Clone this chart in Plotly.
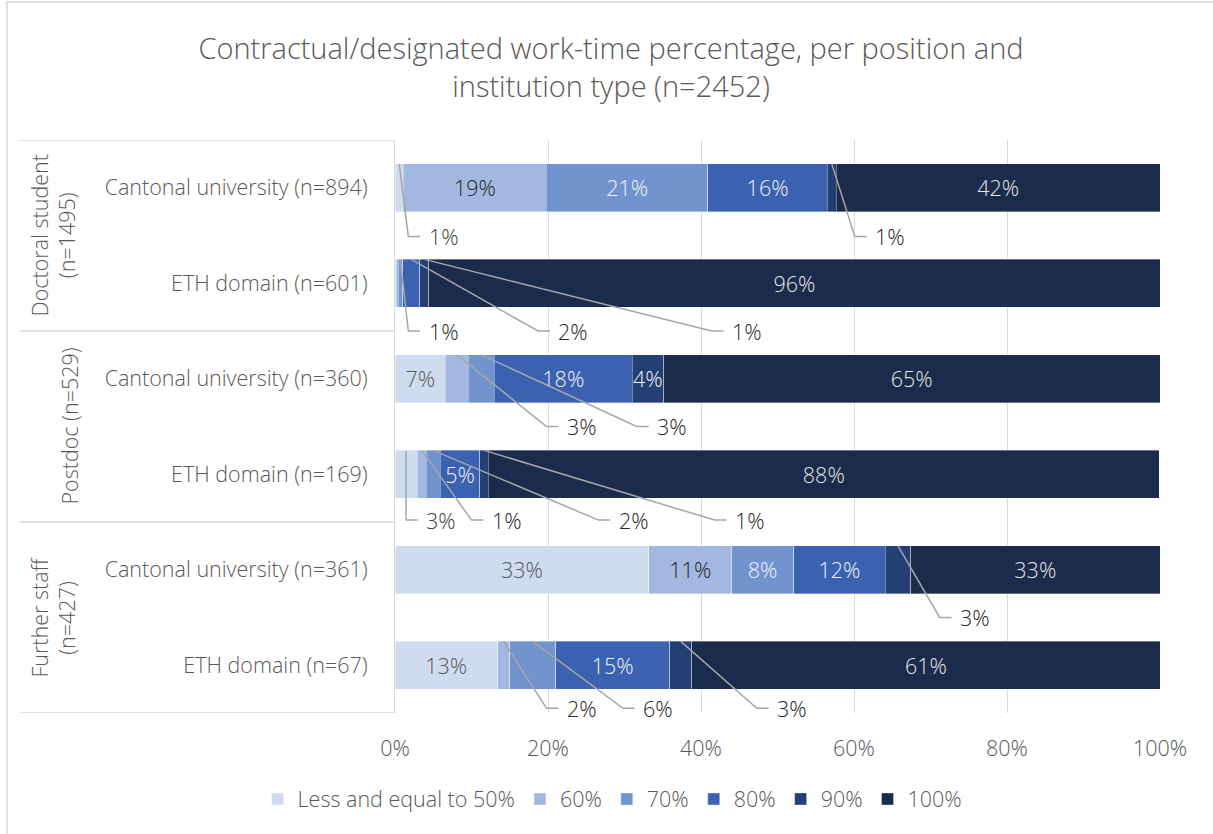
import plotly.graph_objects as go

# ---------------- data ----------------
categories = [
    "Cantonal university (n=894)",
    "ETH domain (n=601)",
    "Cantonal university (n=360)",
    "ETH domain (n=169)",
    "Cantonal university (n=361)",
    "ETH domain (n=67)",
]
groups = ["Doctoral student<br>(n=1495)", "Postdoc (n=529)", "Further staff<br>(n=427)"]
series_names = ["Less and equal to 50%", "60%", "70%", "80%", "90%", "100%"]

le50 = [1.1, 0.15, 6.6, 2.9, 33.2, 13.4]
p60 = [18.7, 0.25, 3.0, 1.2, 10.8, 1.6]
p70 = [21.1, 0.6, 3.4, 1.8, 8.1, 6.0]
p80 = [15.6, 2.26, 18.0, 5.2, 12.0, 14.9]
p90 = [1.2, 1.18, 4.1, 1.1, 3.3, 2.9]
p100 = [42.3, 95.56, 64.9, 87.7, 32.6, 61.2]
values = [le50, p60, p70, p80, p90, p100]

x_ticks = [0, 20, 40, 60, 80, 100]
x_ticktext = ["0%", "20%", "40%", "60%", "80%", "100%"]

# labels placed outside with leader lines: (row, series, elbow x in %, y offset in rows)
outside_labels = [
    (0, 0, 1.74, 0.51), (0, 4, 60.1, 0.51),
    (1, 2, 1.74, 0.50), (1, 3, 18.7, 0.50), (1, 4, 41.4, 0.50),
    (2, 1, 19.8, 0.50), (2, 2, 31.6, 0.50),
    (3, 0, 1.44, 0.48), (3, 1, 10.0, 0.48), (3, 2, 26.6, 0.48), (3, 4, 41.8, 0.48),
    (4, 4, 71.2, 0.50),
    (5, 1, 19.8, 0.45), (5, 2, 29.8, 0.45), (5, 4, 47.3, 0.45),
]
no_labels = [(1, 0), (1, 1)]

# ---------------- style ----------------
colors = ["#cfdbef", "#a2b8e0", "#7194cf", "#3a62b0", "#243f74", "#1a2b4c"]
inside_text_colors = ["#595959", "#262626", "#f2f2f2", "#f2f2f2", "#f2f2f2", "#e6e6e6"]
outside_text_colors = ["#404040", "#262626", "#262626", "#262626", "#262626", "#262626"]
FONT = "Open Sans"
WEIGHT = 300
FS = 21.5
GREY = "#595959"
LINE = "#d9d9d9"

W, H = 1213, 834
L, R, T, B = 395, 1160, 140, 713


def px_x(px):
    return (px - L) / (R - L)


def px_y(py):
    return (B - py) / (B - T)


def pct(v):
    return f"{int(v + 0.5)}%"


def fnt(size=FS, color=GREY):
    return dict(family=FONT, size=size, color=color, weight=WEIGHT)


rows = list(range(len(categories)))
outside_set = {(r, s) for r, s, _, _ in outside_labels}
hidden = outside_set | set(no_labels)

fig = go.Figure()
for s, (name, vals) in enumerate(zip(series_names, values)):
    texts = ["" if (r, s) in hidden else pct(v) for r, v in enumerate(vals)]
    fig.add_trace(go.Bar(
        y=rows, x=vals, name=name, orientation="h",
        marker=dict(color=colors[s], line=dict(color="rgba(255,255,255,0.6)", width=0.6)),
        width=0.5,
        text=texts, textposition="inside", insidetextanchor="middle", textangle=0,
        textfont=fnt(FS, inside_text_colors[s]),
        hoverinfo="x+name",
    ))

# leader lines + outside labels
for r, s, elbow, dy in outside_labels:
    start = sum(values[k][r] for k in range(s)) + values[s][r] / 2
    y0 = r - 0.25
    y1 = r + dy
    fig.add_shape(type="path", xref="x", yref="y",
                  path=f"M {start},{y0} L {elbow},{y1} L {elbow + 1.55},{y1}",
                  line=dict(color="#a6a6a6", width=1.5), layer="above")
    fig.add_annotation(x=elbow + 2.4, y=y1, xref="x", yref="y", text=pct(values[s][r]),
                       showarrow=False, xanchor="left", yanchor="middle",
                       font=fnt(FS, outside_text_colors[s]))

# left category box: separators
for yb in [-0.5, 1.5, 3.5, 5.5]:
    fig.add_shape(type="line", xref="paper", yref="y", x0=px_x(20), x1=0, y0=yb, y1=yb,
                  line=dict(color=LINE, width=1.5))

# group labels (rotated)
group_pos = [(53, 0.5), (69, 2.5), (53, 4.5)]
for g, (gx, gy) in zip(groups, group_pos):
    fig.add_annotation(x=px_x(gx), y=gy, xref="paper", yref="y", text=g, textangle=-90,
                       showarrow=False, xanchor="center", yanchor="middle",
                       font=fnt(FS, GREY))

# outer chart border
fig.add_shape(type="rect", xref="paper", yref="paper",
              x0=px_x(7), x1=px_x(W + 20), y0=px_y(H + 20), y1=px_y(2),
              line=dict(color=LINE, width=1.5), fillcolor="rgba(0,0,0,0)", layer="below")

fig.update_layout(
    width=W, height=H,
    barmode="stack",
    bargap=0.5,
    uniformtext=dict(minsize=FS, mode="show"),
    plot_bgcolor="white", paper_bgcolor="white",
    margin=dict(l=L, r=W - R, t=T, b=H - B, pad=0),
    font=fnt(FS, GREY),
    title=dict(
        text="Contractual/designated work-time percentage, per position and<br>institution type (n=2452)",
        x=611 / W, xanchor="center", xref="container",
        y=1 - 59 / H, yanchor="middle", yref="container",
        font=fnt(29, GREY),
    ),
    xaxis=dict(
        range=[0, 100], tickvals=x_ticks, ticktext=x_ticktext,
        showgrid=True, gridcolor=LINE, gridwidth=1, zeroline=False,
        tickfont=fnt(FS, GREY),
        ticks="", ticklabelstandoff=20, fixedrange=True,
    ),
    yaxis=dict(
        range=[5.5, -0.5], tickvals=rows, ticktext=categories,
        showgrid=False, zeroline=False, showline=True, linecolor=LINE, linewidth=1,
        tickfont=fnt(FS, GREY),
        ticks="", ticklabelstandoff=22, fixedrange=True,
    ),
    legend=dict(
        orientation="h", xref="container", yref="container",
        x=0.505, xanchor="center", y=1 - 799 / H, yanchor="middle",
        font=fnt(FS, GREY),
        traceorder="normal", itemwidth=30,
    ),
    showlegend=True,
)

fig.write_html("out.html", config={"displayModeBar": False},
               post_script="document.body.style.margin='0px';")
